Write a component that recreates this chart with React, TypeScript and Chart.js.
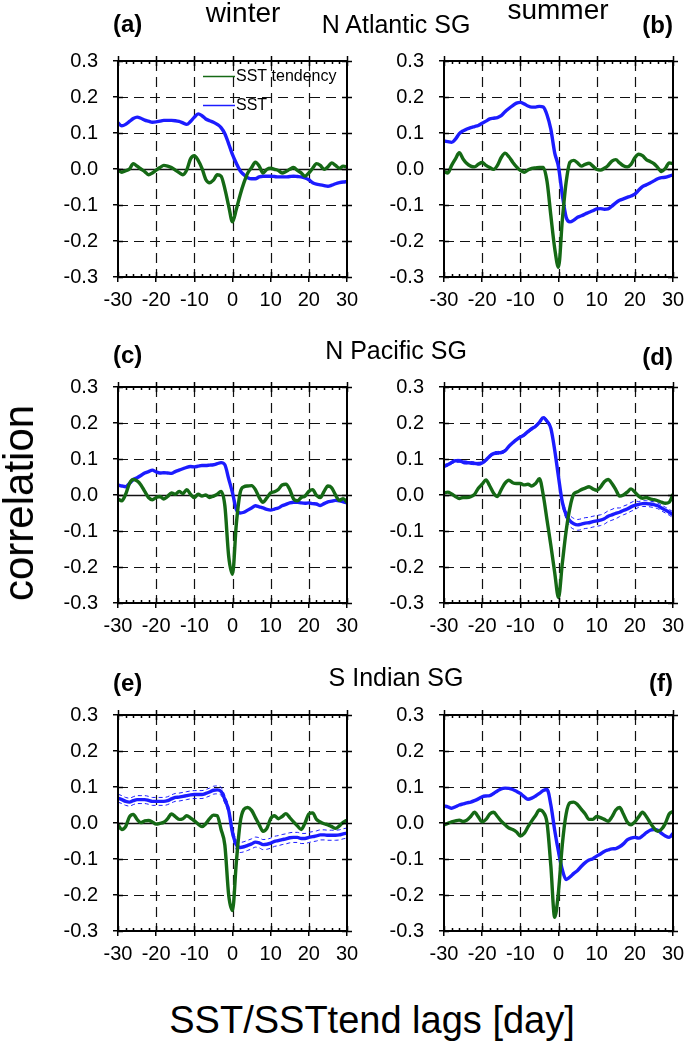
import React, { useEffect, useRef } from "react";
import { Chart, registerables } from "chart.js";

Chart.register(...registerables);

const FONT = "'Liberation Sans', Arial, Helvetica, sans-serif";
const GREEN = "#156915";
const BLUE = "#1c1cff";

// ---------- data ----------
const lags = [
  -30, -29, -28, -27, -26, -25, -24, -23, -22, -21,
  -20, -19, -18, -17, -16, -15, -14, -13, -12, -11,
  -10, -9, -8, -7, -6, -5, -4, -3, -2, -1,
  0,
  1, 2, 3, 4, 5, 6, 7, 8, 9, 10,
  11, 12, 13, 14, 15, 16, 17, 18, 19, 20,
  21, 22, 23, 24, 25, 26, 27, 28, 29, 30,
];

const seriesNames = ["SST tendency", "SST"];
const xTickValues = [-30, -20, -10, 0, 10, 20, 30];
const yTickValues = [-0.3, -0.2, -0.1, 0, 0.1, 0.2, 0.3];

// (a) N Atlantic winter
const aTend = [
  -0.003, -0.009, -0.005, 0.0, 0.015, 0.008, 0.0, -0.007, -0.016, -0.011,
  -0.003, 0.004, 0.01, 0.008, 0.004, -0.003, -0.01, -0.016, -0.003, 0.028,
  0.037, 0.024, 0.002, -0.029, -0.038, -0.031, -0.016, -0.02, -0.055, -0.103,
  -0.147,
  -0.112, -0.072, -0.038, -0.011, 0.004, 0.019, 0.008, -0.011, -0.001, 0.002,
  -0.001, -0.004, -0.011, -0.007, -0.001, 0.004, -0.004, -0.011, -0.02, -0.011,
  0.002, 0.015, 0.01, -0.001, 0.006, 0.017, 0.01, 0.002, 0.008, 0.006,
];
const aSst = [
  0.128, 0.12, 0.124, 0.132, 0.14, 0.144, 0.141, 0.136, 0.133, 0.13,
  0.131, 0.133, 0.135, 0.135, 0.135, 0.134, 0.132, 0.128, 0.124, 0.132,
  0.144, 0.153, 0.148, 0.139, 0.134, 0.13, 0.124, 0.115, 0.098, 0.07,
  0.04,
  0.016, -0.005, -0.016, -0.024, -0.027, -0.027, -0.022, -0.02, -0.02, -0.02,
  -0.021, -0.022, -0.022, -0.022, -0.021, -0.02, -0.021, -0.022, -0.025, -0.03,
  -0.038, -0.042, -0.044, -0.046, -0.048, -0.045, -0.041, -0.038, -0.036, -0.035,
];

// (b) N Atlantic summer
const bTend = [
  -0.007, -0.011, 0.01, 0.028, 0.045, 0.028, 0.015, 0.008, 0.006, 0.013,
  0.018, 0.01, 0.004, -0.001, 0.01, 0.032, 0.044, 0.034, 0.019, 0.006,
  -0.004, -0.009, -0.003, 0.002, 0.003, 0.004, 0.004, -0.035, -0.13, -0.22,
  -0.273,
  -0.142, -0.037, 0.019, 0.024, 0.017, 0.008, 0.013, 0.016, 0.008, -0.001,
  -0.003, 0.002, 0.01, 0.022, 0.026, 0.017, 0.009, 0.006, 0.013, 0.031,
  0.041, 0.037, 0.026, 0.021, 0.015, 0.004, -0.007, 0.002, 0.017, 0.015,
];
const bSst = [
  0.078, 0.076, 0.074, 0.083, 0.098, 0.106, 0.111, 0.115, 0.118, 0.121,
  0.127, 0.133, 0.139, 0.141, 0.143, 0.148, 0.159, 0.168, 0.176, 0.183,
  0.185, 0.181, 0.175, 0.172, 0.172, 0.174, 0.172, 0.15, 0.11, 0.045,
  0.006,
  -0.072, -0.134, -0.147, -0.142, -0.134, -0.13, -0.125, -0.12, -0.116, -0.111,
  -0.11, -0.112, -0.111, -0.103, -0.094, -0.087, -0.083, -0.079, -0.075, -0.07,
  -0.059, -0.049, -0.044, -0.039, -0.033, -0.027, -0.024, -0.023, -0.02, -0.016,
];

// (c) N Pacific winter
const cTend = [
  -0.011, -0.016, 0.002, 0.032, 0.043, 0.039, 0.028, 0.01, -0.007, -0.013,
  -0.007, -0.004, -0.011, -0.004, 0.006, 0.002, 0.01, 0.004, 0.015, 0.002,
  -0.007, 0.002, -0.003, 0.0, -0.007, -0.003, 0.002, 0.01, -0.03, -0.17,
  -0.22,
  -0.081, 0.006, 0.023, 0.025, 0.026, 0.015, -0.007, -0.02, -0.008, 0.006,
  0.009, 0.015, 0.028, 0.03, 0.015, -0.011, -0.016, -0.007, -0.003, 0.01,
  0.015, -0.001, -0.007, 0.01, 0.025, 0.02, 0.0, -0.015, -0.01, -0.02,
];
const cSst = [
  0.028, 0.025, 0.023, 0.032, 0.043, 0.048, 0.054, 0.061, 0.065, 0.069,
  0.064, 0.061, 0.062, 0.061, 0.06, 0.065, 0.069, 0.073, 0.077, 0.079,
  0.078, 0.08, 0.082, 0.082, 0.083, 0.084, 0.087, 0.09, 0.084, 0.045,
  0.006,
  -0.04, -0.05, -0.048, -0.042, -0.036, -0.03, -0.033, -0.036, -0.04, -0.042,
  -0.039, -0.036, -0.03, -0.026, -0.022, -0.02, -0.02, -0.022, -0.023, -0.022,
  -0.024, -0.025, -0.029, -0.024, -0.019, -0.017, -0.015, -0.016, -0.019, -0.022,
];

// (d) N Pacific summer
const dTend = [
  0.006, 0.008, 0.003, -0.004, -0.01, -0.007, -0.007, -0.005, 0.002, 0.019,
  0.03, 0.042, 0.025, 0.005, -0.004, 0.015, 0.033, 0.041, 0.034, 0.032,
  0.032, 0.028, 0.03, 0.025, 0.032, 0.045, 0.0, -0.07, -0.14, -0.215,
  -0.285,
  -0.19, -0.1, -0.035, 0.003, 0.009, 0.015, 0.019, 0.023, 0.017, 0.013,
  0.022, 0.037, 0.043, 0.032, 0.015, -0.003, 0.0, 0.008, 0.017, 0.008,
  -0.003, -0.009, -0.007, -0.011, -0.013, -0.016, -0.02, -0.023, -0.02, 0.002,
];
const dSst = [
  0.08, 0.084, 0.09, 0.095, 0.095, 0.091, 0.09, 0.089, 0.088, 0.087,
  0.089, 0.097, 0.108, 0.115, 0.117, 0.118, 0.123, 0.135, 0.145, 0.154,
  0.161, 0.167, 0.176, 0.184, 0.191, 0.202, 0.215, 0.205, 0.185, 0.125,
  0.05,
  -0.02, -0.055, -0.072, -0.08, -0.083, -0.081, -0.078, -0.077, -0.074, -0.072,
  -0.07, -0.066, -0.059, -0.055, -0.051, -0.048, -0.043, -0.039, -0.033, -0.029,
  -0.026, -0.024, -0.024, -0.025, -0.027, -0.03, -0.036, -0.042, -0.048, -0.055,
];
const dSstBand = [
  0.004, 0.004, 0.004, 0.004, 0.004, 0.004, 0.004, 0.004, 0.004, 0.004,
  0.004, 0.004, 0.004, 0.004, 0.004, 0.004, 0.004, 0.004, 0.004, 0.004,
  0.004, 0.004, 0.004, 0.004, 0.004, 0.004, 0.004, 0.005, 0.005, 0.006,
  0.006,
  0.008, 0.012, 0.015, 0.015, 0.015, 0.015, 0.015, 0.015, 0.015, 0.015,
  0.015, 0.015, 0.015, 0.015, 0.015, 0.012, 0.012, 0.012, 0.012, 0.012,
  0.008, 0.008, 0.008, 0.008, 0.008, 0.008, 0.008, 0.008, 0.008, 0.008,
];

// (e) S Indian winter
const eTend = [
  -0.005, -0.018, -0.01, 0.017, 0.024, 0.01, 0.001, 0.006, 0.007, 0.003,
  -0.003, -0.001, 0.002, 0.012, 0.025, 0.018, 0.01, 0.012, 0.02, 0.014,
  0.006, -0.003, -0.01, -0.002, 0.012, 0.022, 0.02, -0.018, -0.062, -0.2,
  -0.243,
  -0.11, 0.0, 0.038, 0.043, 0.035, 0.015, -0.005, -0.023, -0.015, 0.012,
  0.02, 0.012, 0.018, 0.026, 0.015, 0.003, -0.008, -0.018, 0.0, 0.025,
  0.028, 0.01, 0.003, -0.002, -0.005, -0.01, -0.015, -0.008, 0.002, 0.008,
];
const eSst = [
  0.069, 0.065, 0.06, 0.058, 0.062, 0.065, 0.065, 0.065, 0.063, 0.06,
  0.06, 0.06, 0.06, 0.062, 0.067, 0.071, 0.072, 0.074, 0.076, 0.078,
  0.079, 0.079, 0.079, 0.082, 0.086, 0.091, 0.092, 0.088, 0.065, 0.035,
  -0.027,
  -0.06, -0.068, -0.066, -0.062, -0.058, -0.053, -0.055, -0.06, -0.059, -0.056,
  -0.051, -0.049, -0.046, -0.044, -0.041, -0.04, -0.04, -0.043, -0.043, -0.04,
  -0.038, -0.036, -0.033, -0.033, -0.034, -0.034, -0.034, -0.033, -0.03, -0.028,
];
const eSstBand = [
  0.011, 0.011, 0.011, 0.011, 0.011, 0.011, 0.011, 0.011, 0.011, 0.011,
  0.011, 0.011, 0.011, 0.011, 0.011, 0.011, 0.011, 0.011, 0.011, 0.011,
  0.011, 0.011, 0.011, 0.011, 0.011, 0.011, 0.011, 0.011, 0.011, 0.011,
  0.012,
  0.014, 0.014, 0.014, 0.014, 0.014, 0.014, 0.014, 0.014, 0.014, 0.014,
  0.014, 0.014, 0.014, 0.014, 0.014, 0.014, 0.014, 0.014, 0.014, 0.014,
  0.014, 0.014, 0.014, 0.014, 0.014, 0.014, 0.014, 0.014, 0.014, 0.014,
];

// (f) S Indian summer
const fTend = [
  -0.005, -0.001, 0.003, 0.006, 0.008, 0.004, 0.008, 0.018, 0.03, 0.017,
  0.003, 0.01, 0.025, 0.03, 0.018, 0.005, -0.005, -0.014, -0.018, -0.025,
  -0.036, -0.029, -0.011, 0.006, 0.021, 0.036, 0.03, 0.0, -0.12, -0.262,
  -0.19,
  -0.06, 0.025, 0.056, 0.058, 0.051, 0.038, 0.025, 0.01, 0.01, 0.018,
  0.015, 0.01, 0.005, 0.017, 0.036, 0.043, 0.025, 0.003, -0.005, 0.003,
  0.017, 0.03, 0.018, 0.001, -0.014, -0.023, -0.017, -0.001, 0.025, 0.032,
];
const fSst = [
  0.047, 0.045, 0.041, 0.045, 0.05, 0.053, 0.056, 0.058, 0.062, 0.067,
  0.073, 0.075, 0.076, 0.082, 0.089, 0.095, 0.097, 0.096, 0.093, 0.088,
  0.082, 0.073, 0.066, 0.069, 0.075, 0.082, 0.09, 0.093, 0.05, -0.02,
  -0.08,
  -0.13, -0.157, -0.15, -0.14, -0.132, -0.12, -0.11, -0.103, -0.099, -0.092,
  -0.086, -0.079, -0.075, -0.072, -0.071, -0.066, -0.058, -0.047, -0.042, -0.04,
  -0.042, -0.036, -0.027, -0.02, -0.018, -0.02, -0.029, -0.036, -0.04, -0.029,
];

// ---------- layout ----------
const PLOT_W = 229;
const PLOT_H = 229;
const PAD_L = 80;
const PAD_T = 14;
const PAD_R = 18;
const PAD_B = 44;
const CW = PLOT_W + PAD_L + PAD_R;
const CH = PLOT_H + PAD_T + PAD_B;

const fmtY = (v: number) => (Math.abs(v) < 1e-9 ? "0.0" : v.toFixed(1));

const framePlugin = {
  id: "nclFrame",
  beforeDatasetsDraw(chart: any) {
    const { ctx, chartArea, scales } = chart;
    const { left, right, top, bottom } = chartArea;
    const x = scales.x;
    const y = scales.y;
    ctx.save();
    ctx.strokeStyle = "#111";
    ctx.lineWidth = 1.2;
    ctx.setLineDash([10, 6]);
    xTickValues.slice(1, -1).forEach((v) => {
      const px = Math.round(x.getPixelForValue(v)) + 0.5;
      ctx.beginPath();
      ctx.moveTo(px, top);
      ctx.lineTo(px, bottom);
      ctx.stroke();
    });
    yTickValues.slice(1, -1).forEach((v) => {
      if (Math.abs(v) < 1e-9) return;
      const py = Math.round(y.getPixelForValue(v)) + 0.5;
      ctx.beginPath();
      ctx.moveTo(left, py);
      ctx.lineTo(right, py);
      ctx.stroke();
    });
    ctx.setLineDash([]);
    ctx.lineWidth = 1.3;
    const p0 = Math.round(y.getPixelForValue(0)) + 0.5;
    ctx.beginPath();
    ctx.moveTo(left, p0);
    ctx.lineTo(right, p0);
    ctx.stroke();
    ctx.restore();
  },
  afterDraw(chart: any) {
    const { ctx, chartArea, scales } = chart;
    const { left, right, top, bottom } = chartArea;
    const x = scales.x;
    const y = scales.y;
    ctx.save();
    ctx.strokeStyle = "#000";
    ctx.lineWidth = 2;
    ctx.strokeRect(left, top, right - left, bottom - top);
    ctx.lineWidth = 1.5;
    ctx.beginPath();
    xTickValues.forEach((v) => {
      const px = Math.round(x.getPixelForValue(v)) + 0.5;
      ctx.moveTo(px, bottom);
      ctx.lineTo(px, bottom - 5);
      ctx.moveTo(px, top - 5);
      ctx.lineTo(px, top + 5);
    });
    for (let v = -28; v < 30; v += 2) {
      if (v % 10 === 0) continue;
      const px = Math.round(x.getPixelForValue(v)) + 0.5;
      ctx.moveTo(px, bottom);
      ctx.lineTo(px, bottom - 3);
      ctx.moveTo(px, top);
      ctx.lineTo(px, top + 3);
    }
    yTickValues.forEach((v) => {
      const py = Math.round(y.getPixelForValue(v)) + 0.5;
      ctx.moveTo(left, py);
      ctx.lineTo(left + 5, py);
      ctx.moveTo(right - 5, py);
      ctx.lineTo(right + 5, py);
    });
    ctx.stroke();
    ctx.restore();
  },
};

const legendPlugin = {
  id: "nclLegend",
  afterDraw(chart: any) {
    const { ctx, chartArea } = chart;
    const { left, top } = chartArea;
    const rows = [
      { name: seriesNames[0], color: GREEN, dy: 15 },
      { name: seriesNames[1], color: BLUE, dy: 44 },
    ];
    ctx.save();
    ctx.font = `16px ${FONT}`;
    ctx.textBaseline = "middle";
    ctx.fillStyle = "#000";
    rows.forEach((r) => {
      ctx.strokeStyle = r.color;
      ctx.lineWidth = 1.5;
      ctx.beginPath();
      ctx.moveTo(left + 85, top + r.dy + 0.5);
      ctx.lineTo(left + 117, top + r.dy + 0.5);
      ctx.stroke();
      ctx.fillText(r.name, left + 118, top + r.dy + 1);
    });
    ctx.restore();
  },
};

type PanelProps = {
  left: number;
  top: number;
  tend: number[];
  sst: number[];
  sstBand?: number[];
  legend?: boolean;
};

function Panel({ left, top, tend, sst, sstBand, legend }: PanelProps) {
  const ref = useRef<HTMLCanvasElement>(null);
  useEffect(() => {
    const pts = (arr: number[]) => lags.map((l, i) => ({ x: l, y: arr[i] }));
    const datasets: any[] = [
      {
        label: seriesNames[0],
        data: pts(tend),
        borderColor: GREEN,
        borderWidth: 3.4,
        pointRadius: 0,
        cubicInterpolationMode: "monotone",
        fill: false,
      },
      {
        label: seriesNames[1],
        data: pts(sst),
        borderColor: BLUE,
        borderWidth: 3.4,
        pointRadius: 0,
        cubicInterpolationMode: "monotone",
        fill: false,
      },
    ];
    if (sstBand) {
      const hi = sst.map((v, i) => v + sstBand[i]);
      const lo = sst.map((v, i) => v - sstBand[i]);
      [hi, lo].forEach((arr) =>
        datasets.push({
          label: "band",
          data: pts(arr),
          borderColor: BLUE,
          borderWidth: 1,
          borderDash: [4, 3],
          pointRadius: 0,
          cubicInterpolationMode: "monotone",
          fill: false,
        })
      );
    }
    const tickFont = { family: FONT, size: 20 };
    const chart = new Chart(ref.current as HTMLCanvasElement, {
      type: "line",
      data: { datasets },
      options: {
        animation: false,
        responsive: false,
        devicePixelRatio: 1,
        layout: { padding: { top: PAD_T, right: PAD_R, left: 0, bottom: 0 } },
        plugins: { legend: { display: false }, tooltip: { enabled: false } },
        scales: {
          x: {
            type: "linear",
            min: -30,
            max: 30,
            afterFit: (s: any) => {
              s.height = PAD_B;
            },
            afterBuildTicks: (s: any) => {
              s.ticks = xTickValues.map((v) => ({ value: v }));
            },
            ticks: {
              color: "#000",
              font: tickFont,
              padding: 6,
              maxRotation: 0,
              autoSkip: false,
              callback: (v: any) => String(v),
            },
            grid: {
              drawOnChartArea: false,
              drawTicks: true,
              tickLength: 5,
              color: "#000",
              lineWidth: 1.5,
            },
            border: { display: true, color: "#000", width: 2 },
          },
          y: {
            type: "linear",
            min: -0.3,
            max: 0.3,
            afterFit: (s: any) => {
              s.width = PAD_L;
            },
            afterBuildTicks: (s: any) => {
              s.ticks = yTickValues.map((v) => ({ value: v }));
            },
            ticks: {
              color: "#000",
              font: tickFont,
              padding: 15,
              autoSkip: false,
              callback: (v: any) => fmtY(Number(v)),
            },
            grid: {
              drawOnChartArea: false,
              drawTicks: true,
              tickLength: 5,
              color: "#000",
              lineWidth: 1.5,
            },
            border: { display: true, color: "#000", width: 2 },
          },
        },
      } as any,
      plugins: legend ? [framePlugin, legendPlugin] : [framePlugin],
    });
    return () => chart.destroy();
  }, []);
  return (
    <canvas
      ref={ref}
      width={CW}
      height={CH}
      style={{ position: "absolute", left: left - PAD_L, top: top - PAD_T, width: CW, height: CH }}
    />
  );
}

type TxtProps = {
  x: number;
  base: number;
  size: number;
  bold?: boolean;
  align?: "left" | "center" | "right";
  children: React.ReactNode;
};

function Txt({ x, base, size, bold, align = "left", children }: TxtProps) {
  const tx = align === "center" ? "translateX(-50%)" : align === "right" ? "translateX(-100%)" : "none";
  return (
    <div
      style={{
        position: "absolute",
        left: x,
        top: base - 0.8465 * size,
        transform: tx,
        fontFamily: FONT,
        fontSize: size,
        lineHeight: `${size}px`,
        fontWeight: bold ? 700 : 400,
        whiteSpace: "nowrap",
        color: "#000",
      }}
    >
      {children}
    </div>
  );
}

export default function App() {
  return (
    <div style={{ position: "absolute", left: 0, top: 0, width: 685, height: 1044, background: "#fff", overflow: "hidden" }}>
      <Panel left={118} top={48} tend={aTend} sst={aSst} legend />
      <Panel left={444} top={48} tend={bTend} sst={bSst} />
      <Panel left={118} top={374} tend={cTend} sst={cSst} />
      <Panel left={444} top={374} tend={dTend} sst={dSst} sstBand={dSstBand} />
      <Panel left={118} top={702} tend={eTend} sst={eSst} sstBand={eSstBand} />
      <Panel left={444} top={702} tend={fTend} sst={fSst} />

      <Txt x={113} base={32} size={24} bold>(a)</Txt>
      <Txt x={243} base={23} size={28} align="center">winter</Txt>
      <Txt x={396} base={33} size={25} align="center">N Atlantic SG</Txt>
      <Txt x={558} base={20} size={28} align="center">summer</Txt>
      <Txt x={673} base={33} size={24} bold align="right">(b)</Txt>

      <Txt x={113} base={363} size={24} bold>(c)</Txt>
      <Txt x={396} base={359} size={25} align="center">N Pacific SG</Txt>
      <Txt x={673} base={365} size={24} bold align="right">(d)</Txt>

      <Txt x={113} base={691} size={24} bold>(e)</Txt>
      <Txt x={396} base={686} size={25} align="center">S Indian SG</Txt>
      <Txt x={673} base={691} size={24} bold align="right">(f)</Txt>

      <div
        style={{
          position: "absolute",
          left: 19,
          top: 503,
          transform: "translate(-50%, -50%) rotate(-90deg)",
          fontFamily: FONT,
          fontSize: 42,
          lineHeight: "42px",
          whiteSpace: "nowrap",
          color: "#000",
        }}
      >
        correlation
      </div>
      <Txt x={372} base={1033} size={38} align="center">SST/SSTtend lags [day]</Txt>
    </div>
  );
}
